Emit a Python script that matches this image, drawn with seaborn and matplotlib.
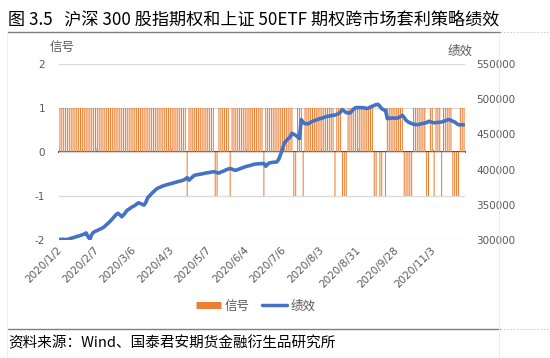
import numpy as np
import pandas as pd
import matplotlib
matplotlib.use("Agg")
import matplotlib.pyplot as plt
import seaborn as sns
from matplotlib.lines import Line2D

# ---------------- data ----------------
signal = [
    1, 1, 1, 1, 1, 1, 1, 1, 1, 1, 1, 1, 1, 1, 1, 1, 1, 1, 1, 1,
    1, 1, 1, 1, 1, 1, 1, 1, 1, 1, 1, 1, 1, 1, 1, 1, 1, 1, 1, 1,
    1, 1, 1, 1, 1, 1, 1, 1, 1, 1, 1, 1, 1, 1, 1, 1, 1, 1, 1, 1,
    1, 1, 1, 1, 1, 1, 1, 1, -1, 1, 1, 1, 1, 1, 1, 1, 1, 1, 1, 1,
    1, 1, 1, -1, -1, 1, 1, 1, 1, 1, 1, -1, 1, 1, 1, 1, 1, 1, 1, 1,
    1, 1, 1, 1, 1, 1, 1, 1, 1, -1, 1, 1, 1, 1, 1, 1, 1, 1, 1, 1,
    1, 1, 1, 1, 1, -1, -1, 1, 1, 1, -1, 1, 1, 1, 1, 1, 1, 1, 1, 1,
    1, 1, 1, 1, 1, 1, 1, -1, 1, 1, 1, -1, -1, -1, 1, 1, 1, 1, 1, 1,
    1, 1, 1, 1, 1, 1, 1, 1, -1, -1, 0, -1, -1, 0, -1, 1, 1, 1, 1, 1,
    1, 1, 1, 1, -1, -1, -1, -1, -1, 1, 1, 1, 1, 1, 1, 1, -1, -1, 1, 1,
    -1, 1, 1, 1, -1, 1, 1, 1, 1, 1, -1, -1, -1, -1, 1, 1, 1,
]

perf = [
    301000, 300500, 301200, 300400, 301000, 301500, 302500, 303200, 304000, 305000,
    305600, 306500, 307500, 308500, 310000, 305000, 301000, 308000, 311000, 312500,
    313500, 315000, 316000, 317500, 319500, 322000, 324500, 327000, 330000, 333000,
    336000, 338000, 336000, 333000, 335500, 339000, 342500, 344000, 346000, 347500,
    349000, 351000, 352800, 352000, 350500, 349600, 354000, 360500, 363000, 366000,
    368500, 371000, 373200, 374500, 375500, 376800, 377500, 378500, 379000, 380000,
    380300, 381500, 382000, 383000, 383500, 384200, 385000, 386500, 388500, 385000,
    387500, 390000, 392000, 392500, 393000, 393500, 394000, 394500, 395200, 395500,
    396000, 396500, 397000, 396500, 395500, 395000, 396500, 397500, 398500, 400000,
    400800, 401600, 400500, 399500, 399000, 400000, 401000, 402000, 403000, 404000,
    404800, 405500, 406000, 407000, 407700, 408000, 408200, 408400, 408500, 408700,
    404800, 407500, 409500, 410000, 410300, 410500, 411000, 415000, 422000, 430000,
    438000, 441000, 444000, 446300, 451600, 450000, 448800, 446500, 444100, 471000,
    467000, 465300, 465000, 465300, 467000, 468600, 469500, 470500, 471500, 472400,
    473000, 474000, 475000, 475700, 476200, 476800, 477100, 477500, 478500, 479500,
    482000, 485200, 483000, 481000, 480400, 480400, 483000, 486000, 488000, 488000,
    488200, 488000, 488000, 487500, 486600, 487500, 489000, 490000, 491300, 492200,
    492700, 490000, 486600, 485000, 484200, 472400, 473000, 473000, 473300, 473000,
    473300, 473500, 475500, 477100, 474000, 470000, 468000, 466500, 465300, 464500,
    464000, 463800, 464200, 465000, 465500, 466200, 466700, 468600, 468000, 467000,
    466500, 466700, 467000, 467300, 467600, 468500, 469500, 470500, 471000, 470000,
    468500, 467600, 465500, 463800, 463500, 463800, 463600,
]

tick_labels = ["2020/1/2", "2020/2/7", "2020/3/6", "2020/4/3", "2020/5/7",
               "2020/6/4", "2020/7/6", "2020/8/3", "2020/8/31", "2020/9/28",
               "2020/11/3"]
tick_step = 20
left_ticks = [-2, -1, 0, 1, 2]
right_ticks = [300000, 350000, 400000, 450000, 500000, 550000]

title = "图 3.5   沪深 300 股指期权和上证 50ETF 期权跨市场套利策略绩效"
source = "资料来源：Wind、国泰君安期货金融衍生品研究所"

# ---------------- style ----------------
sns.set_theme(style="white")
plt.rcParams['font.family'] = ['DejaVu Sans', 'Noto Sans CJK SC']

ORANGE = "#ED7D31"
BLUE = "#4472C4"
GREY_TXT = "#595959"
GRID = "#d9d9d9"
CJK = ["Noto Sans CJK SC", "DejaVu Sans"]

W, H = 550, 358
fig = plt.figure(figsize=(W / 100, H / 100), dpi=100)
fig.patch.set_facecolor("white")

n = len(perf)
df = pd.DataFrame({"day": np.arange(n), "signal": signal, "perf": perf})

ax = fig.add_axes([59 / W, 1 - 240 / H, 406 / W, 176 / H])
sns.barplot(data=df, x="day", y="signal", color=ORANGE, saturation=1,
            width=0.55, errorbar=None, edgecolor="none", linewidth=0, ax=ax)
for p in ax.patches:
    p.set_snap(False)
    p.set_edgecolor("none")
    p.set_facecolor(ORANGE)
ax.set_xlim(-0.5, n - 0.5)
ax.set_ylim(-2, 2)
ax.set_yticks(left_ticks)
ax.set_yticklabels([str(t) for t in left_ticks])
ax.yaxis.grid(True, color=GRID, lw=0.9)
ax.xaxis.grid(False)
ax.set_axisbelow(True)
for s in ax.spines.values():
    s.set_visible(False)
ax.set_xlabel("")
ax.set_ylabel("")
ax.set_xticks(range(0, n, tick_step))
ax.set_xticklabels(tick_labels, rotation=45, ha="right", va="center",
                   rotation_mode="anchor")
ax.tick_params(axis="x", length=0, pad=6, labelsize=7.5, labelcolor=GREY_TXT)
ax.tick_params(axis="y", length=0, pad=10, labelsize=7.5, labelcolor=GREY_TXT)

# zero line with category tick marks
sec = ax.secondary_xaxis(0.5)
sec.set_xticks(np.arange(-0.5, n, tick_step))
sec.tick_params(axis="x", length=3, width=0.8, color="#bfbfbf",
                labelbottom=False, labeltop=False)
sec.spines["bottom"].set_color(GRID)
sec.spines["bottom"].set_linewidth(0.9)

ax2 = ax.twinx()
sns.lineplot(data=df, x="day", y="perf", color=BLUE, lw=2.6, ax=ax2)
ax2.set_ylim(300000, 550000)
ax2.set_yticks(right_ticks)
ax2.set_yticklabels([str(t) for t in right_ticks])
ax2.set_xlim(-0.5, n - 0.5)
ax2.set_ylabel("")
ax2.set_xlabel("")
ax2.grid(False)
for s in ax2.spines.values():
    s.set_visible(False)
ax2.tick_params(axis="y", length=0, pad=8, labelsize=7.5, labelcolor=GREY_TXT)

# axis titles
fig.text(62 / W, 1 - 47 / H, "信号", ha="center", va="center",
         fontsize=9, color=GREY_TXT, family=CJK)
fig.text(460 / W, 1 - 51 / H, "绩效", ha="center", va="center",
         fontsize=9, color=GREY_TXT, family=CJK)

# legend
handles = [Line2D([], [], color=ORANGE, lw=5, solid_capstyle="butt"),
           Line2D([], [], color=BLUE, lw=2.5)]
fig.legend(handles, ["信号", "绩效"], loc="center",
           bbox_to_anchor=(256 / W, 1 - 306 / H), ncol=2, frameon=False,
           handlelength=2.0, handletextpad=0.3,
           columnspacing=1.0, labelcolor=GREY_TXT,
           prop={"family": CJK, "size": 9})

# title, source and frame lines
fig.text(8 / W, 1 - 19 / H, title, ha="left", va="center", fontsize=12.3,
         color="black", family=CJK, weight="medium")
fig.text(8 / W, 1 - 343 / H, source, ha="left", va="center", fontsize=10.5,
         color="black", family=CJK)

for yy in (32, 329):
    fig.add_artist(Line2D([8 / W, 500 / W], [1 - yy / H] * 2,
                          color="#7f7f7f", lw=1.0))
    fig.add_artist(Line2D([500 / W, 550 / W], [1 - yy / H] * 2,
                          color="#c8c8c8", lw=0.6, ls=(0, (2, 2))))
for xx in (7, 499):
    fig.add_artist(Line2D([xx / W] * 2, [1 - 33 / H, 0], color="#eeeeee",
                          lw=0.8))

fig.savefig("out.png", dpi=100)
